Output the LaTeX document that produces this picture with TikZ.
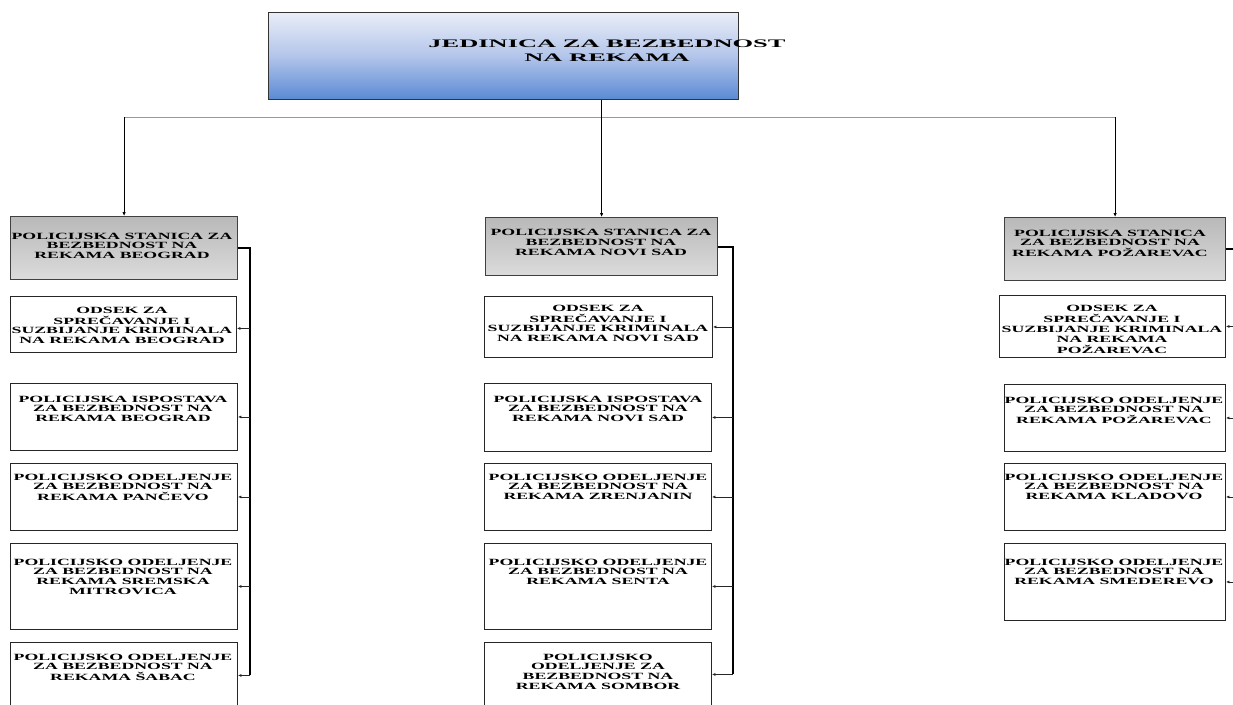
\documentclass[tikz,border=0pt]{standalone}
\usepackage{fontspec}
\setmainfont{Liberation Serif}
\usepackage{graphicx}
\usetikzlibrary{arrows.meta}
\definecolor{ttop}{HTML}{E9EDF8}
\definecolor{tmid}{HTML}{B3C5EA}
\definecolor{tbot}{HTML}{5A8AD4}
\newcommand\sx[2]{\scalebox{#1}[1]{\begin{tabular}[t]{@{}c@{}}#2\end{tabular}}}
\tikzset{
  box/.style={draw=black!85, line width=0.9pt, inner sep=0pt, anchor=north west},
  stn/.style={box, draw=black!75, line width=1.2pt, top color=gray!55, bottom color=gray!28},
  ttlbox/.style={box, draw=black!80, line width=1pt, top color=ttop, bottom color=tbot, middle color=tmid},
  txt/.style={inner sep=0pt, anchor=base, font=\bfseries\fontsize{9.5}{9.8}\selectfont},
  ttl/.style={inner sep=0pt, anchor=base, font=\bfseries\fontsize{11.5}{14}\selectfont},
  bus/.style={draw=black!40, line width=1pt},
  mainln/.style={draw=black, line width=1.4pt, -{Latex[length=4pt,width=3.5pt]}},
  dropln/.style={draw=black, line width=0.9pt, -{Latex[length=4pt,width=3.5pt]}},
  branch/.style={draw=black, line width=1.8pt},
  stub/.style={draw=black!85, line width=0.8pt, -{Latex[length=3.5pt,width=3pt]}}
}
\begin{document}
\begin{tikzpicture}[x=1pt,y=-1pt]
\clip (0,0) rectangle (1233,704);
\fill[white] (0,0) rectangle (1233,704);
% title
\node[ttlbox, minimum width=470pt, minimum height=87pt] (T) at (268,12) {};
\node[ttl] (Tt) at (607,47.5) {\sx{2.3}{JEDINICA ZA BEZBEDNOST\\NA REKAMA}};
% stations
\node[stn, minimum width=227pt, minimum height=63pt] (LS) at (10,216) {};
\node[stn, minimum width=232pt, minimum height=58pt] (MS) at (485,217) {};
\node[stn, minimum width=221pt, minimum height=63pt] (RS) at (1004,217) {};
\node[txt] (LSt) at (122,239) {\sx{1.87}{POLICIJSKA STANICA ZA\\BEZBEDNOST NA\\REKAMA BEOGRAD}};
\node[txt] (MSt) at (601,235.5) {\sx{1.87}{POLICIJSKA STANICA ZA\\BEZBEDNOST NA\\REKAMA NOVI SAD}};
\node[txt] (RSt) at (1110,236) {\sx{1.87}{POLICIJSKA STANICA\\ZA BEZBEDNOST NA\\REKAMA POŽAREVAC}};
% left column
\node[box, minimum width=226pt, minimum height=56pt] (L1) at (10,296) {};
\node[box, minimum width=227pt, minimum height=67pt] (L2) at (10,383) {};
\node[box, minimum width=227pt, minimum height=67pt] (L3) at (10,463) {};
\node[box, minimum width=227pt, minimum height=86pt] (L4) at (10,543) {};
\node[box, minimum width=227pt, minimum height=66pt] (L5) at (10,642) {};
\node[txt] (L1t) at (122,313) {\sx{1.87}{ODSEK ZA\\SPREČAVANJE I\\SUZBIJANJE KRIMINALA\\NA REKAMA BEOGRAD}};
\node[txt] (L2t) at (123,402) {\sx{1.87}{POLICIJSKA ISPOSTAVA\\ZA BEZBEDNOST NA\\REKAMA BEOGRAD}};
\node[txt] (L3t) at (123,480) {\sx{1.87}{POLICIJSKO ODELJENJE\\ZA BEZBEDNOST NA\\REKAMA PANČEVO}};
\node[txt] (L4t) at (123,565) {\sx{1.87}{POLICIJSKO ODELJENJE\\ZA BEZBEDNOST NA\\REKAMA SREMSKA\\MITROVICA}};
\node[txt] (L5t) at (123,660) {\sx{1.87}{POLICIJSKO ODELJENJE\\ZA BEZBEDNOST NA\\REKAMA ŠABAC}};
% middle column
\node[box, minimum width=228pt, minimum height=61pt] (M1) at (484,296) {};
\node[box, minimum width=227pt, minimum height=68pt] (M2) at (484,383) {};
\node[box, minimum width=227pt, minimum height=67pt] (M3) at (484,463) {};
\node[box, minimum width=227pt, minimum height=86pt] (M4) at (484,543) {};
\node[box, minimum width=227pt, minimum height=64pt] (M5) at (484,642) {};
\node[txt] (M1t) at (598,311) {\sx{1.87}{ODSEK ZA\\SPREČAVANJE I\\SUZBIJANJE KRIMINALA\\NA REKAMA NOVI SAD}};
\node[txt] (M2t) at (598,402) {\sx{1.87}{POLICIJSKA ISPOSTAVA\\ZA BEZBEDNOST NA\\REKAMA NOVI SAD}};
\node[txt] (M3t) at (598,480) {\sx{1.87}{POLICIJSKO ODELJENJE\\ZA BEZBEDNOST NA\\REKAMA ZRENJANIN}};
\node[txt] (M4t) at (598,565) {\sx{1.87}{POLICIJSKO ODELJENJE\\ZA BEZBEDNOST NA\\REKAMA SENTA}};
\node[txt] (M5t) at (598,660) {\sx{1.87}{POLICIJSKO\\ODELJENJE ZA\\BEZBEDNOST NA\\REKAMA SOMBOR}};
% right column
\node[box, minimum width=226pt, minimum height=62pt] (R1) at (999,295) {};
\node[box, minimum width=221pt, minimum height=67pt] (R2) at (1004,384) {};
\node[box, minimum width=221pt, minimum height=67pt] (R3) at (1004,463) {};
\node[box, minimum width=221pt, minimum height=77pt] (R4) at (1004,543) {};
\node[txt] (R1t) at (1112,311.5) {\sx{1.87}{ODSEK ZA\\SPREČAVANJE I\\SUZBIJANJE KRIMINALA\\NA REKAMA\\POŽAREVAC}};
\node[txt] (R2t) at (1114,403) {\sx{1.87}{POLICIJSKO ODELJENJE\\ZA BEZBEDNOST NA\\REKAMA POŽAREVAC}};
\node[txt] (R3t) at (1114,480) {\sx{1.87}{POLICIJSKO ODELJENJE\\ZA BEZBEDNOST NA\\REKAMA KLADOVO}};
\node[txt] (R4t) at (1114,565) {\sx{1.87}{POLICIJSKO ODELJENJE\\ZA BEZBEDNOST NA\\REKAMA SMEDEREVO}};
% top connectors
\coordinate (busy) at (600,117);
\draw[bus] (LS.north |- busy) -- (RS.north |- busy);
\draw[mainln] (T.south -| MS.north) -- (MS.north);
\draw[dropln] (LS.north |- busy) -- (LS.north);
\draw[dropln] (RS.north |- busy) -- (RS.north);
% left branch
\coordinate (Lx) at (250,0);
\draw[branch] (LS.east) -- (LS.east -| Lx) -- (L5.east -| Lx);
\draw[stub] ([yshift=-4pt]L1.east -| Lx) -- ([yshift=-4pt]L1.east);
\foreach \n in {L2,L3,L4,L5} \draw[stub] (\n.east -| Lx) -- (\n.east);
% middle branch
\coordinate (Mx) at (733,0);
\draw[branch] (MS.east) -- (MS.east -| Mx) -- (M5.east -| Mx);
\foreach \n in {M1,M2,M3,M4,M5} \draw[stub] (\n.east -| Mx) -- (\n.east);
% right branch
\coordinate (Rx) at (1238,0);
\draw[branch] (RS.east) -- (RS.east -| Rx) -- (R4.east -| Rx);
\foreach \n in {R1,R2,R3,R4} \draw[stub] (\n.east -| Rx) -- (\n.east);
\end{tikzpicture}
\end{document}
